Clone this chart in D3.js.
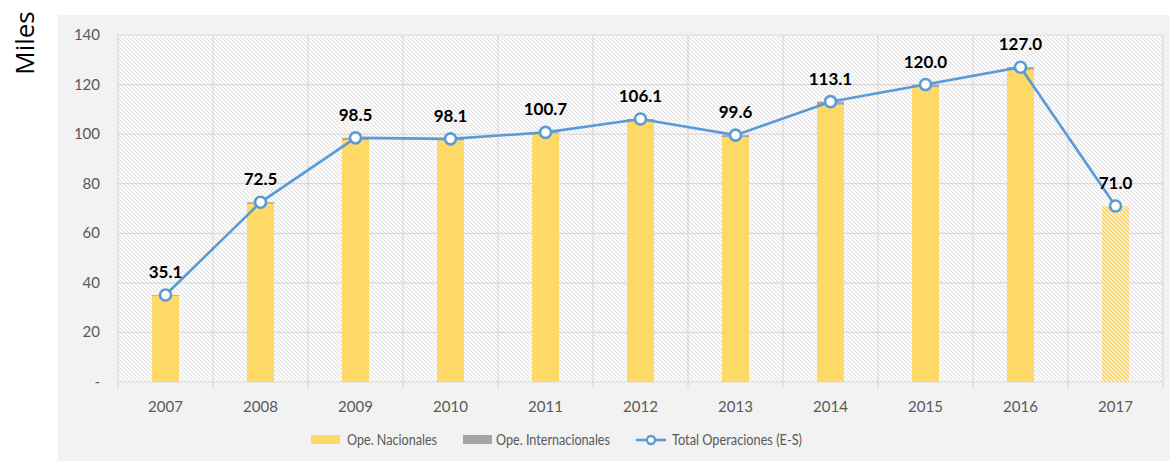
<!DOCTYPE html>
<html><head><meta charset="utf-8">
<script src="https://cdn.jsdelivr.net/npm/d3@7"></script>
<style>body{margin:0;background:#fff}svg{display:block}</style>
</head><body>
<script>
const years = ["2007","2008","2009","2010","2011","2012","2013","2014","2015","2016","2017"];
const totals = [35.1,72.5,98.5,98.1,100.7,106.1,99.6,113.1,120.0,127.0,71.0];
const internacionales = [0.3,0.6,0.8,0.6,0.5,0.5,0.8,1.2,1.0,1.0,0.0];
const nacionales = totals.map((t,i)=>+(t-internacionales[i]).toFixed(1));
const yTicks = [0,20,40,60,80,100,120,140];
const legendLabels = ["Ope. Nacionales","Ope. Internacionales","Total Operaciones (E-S)"];

const W=1170,H=461;
const svg=d3.select("body").append("svg").attr("width",W).attr("height",H);
const defs=svg.append("defs");
function hatch(id,bg,fg,w,s){
  const p=defs.append("pattern").attr("id",id).attr("patternUnits","userSpaceOnUse")
    .attr("width",s).attr("height",s);
  p.append("rect").attr("width",s).attr("height",s).attr("fill",bg);
  p.append("path").attr("d",`M-1,-1 L${s+1},${s+1} M-1,${s-1} L1,${s+1} M${s-1},-1 L${s+1},1`).attr("stroke",fg).attr("stroke-width",w);
}
hatch("bgHatch","#ffffff","#e2e2e2",1.1,4);
hatch("yHatch","#ffffff","#ffd966",2.0,4);

svg.append("rect").attr("x",58).attr("y",15).attr("width",W-58).attr("height",H-15).attr("fill","#f2f2f2");

const L=118,R=1163,T=35,B=382;
const x=d3.scaleBand().domain(years).range([L,R]).paddingInner(0).paddingOuter(0);
const y=d3.scaleLinear().domain([0,140]).range([B,T]);
const bw=27;

svg.append("rect").attr("x",L).attr("y",T).attr("width",R-L).attr("height",B-T).attr("fill","url(#bgHatch)");

// gridlines
svg.append("g").selectAll("line").data(yTicks).join("line")
  .attr("x1",L).attr("x2",R).attr("y1",d=>y(d)).attr("y2",d=>y(d))
  .attr("stroke","#d9d9d9").attr("stroke-width",1.2);
const bounds=years.map(d=>x(d)).concat([R]);
svg.append("g").selectAll("line").data(bounds).join("line")
  .attr("x1",d=>d).attr("x2",d=>d).attr("y1",T).attr("y2",B+6)
  .attr("stroke","#d9d9d9").attr("stroke-width",1.2);

// y labels
svg.append("g").selectAll("text").data(yTicks).join("text")
  .attr("x",100).attr("y",d=>y(d)+5).attr("text-anchor","end")
  .attr("font-family","Lato, 'Open Sans', sans-serif").attr("font-size",15).attr("fill","#595959")
  .text(d=>d===0?"-":d);

// x labels
svg.append("g").selectAll("text").data(years).join("text")
  .attr("x",d=>x(d)+x.bandwidth()/2).attr("y",412).attr("text-anchor","middle")
  .attr("font-family","Lato, 'Open Sans', sans-serif").attr("font-size",15).attr("fill","#595959")
  .text(d=>d);

// bars
const bars=svg.append("g");
years.forEach((yr,i)=>{
  const cx=x(yr)+x.bandwidth()/2;
  bars.append("rect").attr("x",cx-bw/2).attr("width",bw)
    .attr("y",y(nacionales[i])).attr("height",y(0)-y(nacionales[i]))
    .attr("fill",i===years.length-1?"url(#yHatch)":"#ffd966");
  if(internacionales[i]>0)
  bars.append("rect").attr("x",cx-bw/2).attr("width",bw)
    .attr("y",y(totals[i])).attr("height",y(nacionales[i])-y(totals[i]))
    .attr("fill","#a5a5a5");
});

// line
const pts=years.map((yr,i)=>[x(yr)+x.bandwidth()/2,y(totals[i])]);
svg.append("path").attr("d",d3.line()(pts)).attr("fill","none")
  .attr("stroke","#5b9bd5").attr("stroke-width",2.6);
svg.append("g").selectAll("circle").data(pts).join("circle")
  .attr("cx",d=>d[0]).attr("cy",d=>d[1]).attr("r",5.5)
  .attr("fill","#fff").attr("stroke","#5b9bd5").attr("stroke-width",2.6);

// data labels
svg.append("g").selectAll("text").data(totals).join("text")
  .attr("x",(d,i)=>pts[i][0]).attr("y",(d,i)=>pts[i][1]-17).attr("text-anchor","middle")
  .attr("font-family","Lato, 'Open Sans', sans-serif").attr("font-weight","bold").attr("font-size",17).attr("fill","#000")
  .text(d=>d.toFixed(1));

// Miles
svg.append("text").attr("transform","translate(34,43) rotate(-90)").attr("text-anchor","middle")
  .attr("font-family","'Open Sans', sans-serif").attr("font-size",26).attr("fill","#000").text("Miles");

// legend
const lg=svg.append("g").attr("font-family","Lato, 'Open Sans', sans-serif").attr("font-size",14.5).attr("fill","#595959");
lg.append("rect").attr("x",311).attr("y",435).attr("width",29).attr("height",9).attr("fill","#ffd966");
lg.append("text").attr("x",347).attr("y",445).attr("textLength",90).attr("lengthAdjust","spacingAndGlyphs").text(legendLabels[0]);
lg.append("rect").attr("x",463).attr("y",435).attr("width",29).attr("height",9).attr("fill","#a5a5a5");
lg.append("text").attr("x",496).attr("y",445).attr("textLength",114).attr("lengthAdjust","spacingAndGlyphs").text(legendLabels[1]);
lg.append("line").attr("x1",636).attr("x2",666).attr("y1",440).attr("y2",440).attr("stroke","#5b9bd5").attr("stroke-width",2.6);
lg.append("circle").attr("cx",651).attr("cy",440).attr("r",4).attr("fill","#fff").attr("stroke","#5b9bd5").attr("stroke-width",2.4);
lg.append("text").attr("x",672).attr("y",445).attr("textLength",130).attr("lengthAdjust","spacingAndGlyphs").text(legendLabels[2]);
</script>
</body></html>
